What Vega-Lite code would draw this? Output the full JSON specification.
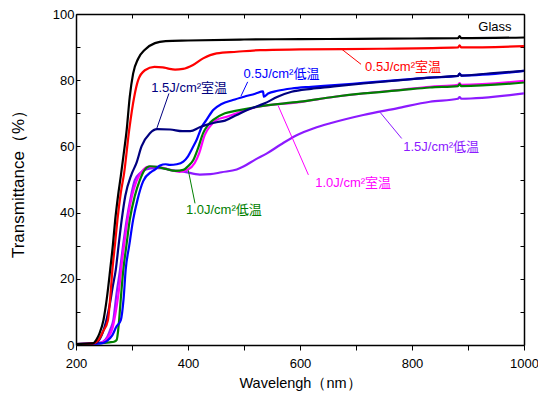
{
  "$schema": "https://vega.github.io/schema/vega-lite/v6.json",
  "width": 448,
  "height": 331,
  "autosize": {"type": "none"},
  "padding": {"left": 76, "top": 14, "right": 14, "bottom": 56},
  "background": "white",
  "config": {
    "view": {"stroke": null},
    "axis": {"grid": false, "labelFlush": false, "domainColor": "black", "domainWidth": 1.5, "tickColor": "black", "tickWidth": 1, "labelColor": "black", "titleColor": "black", "labelFont": "Liberation Sans", "titleFont": "Liberation Sans", "titleFontWeight": "normal"}
  },
  "datasets": {
    "curves": [
      {"s":"1.5J/cm²低温","w":200,"t":0.3},{"s":"1.5J/cm²低温","w":236,"t":0.5},{"s":"1.5J/cm²低温","w":248,"t":1},{"s":"1.5J/cm²低温","w":256,"t":2.5},{"s":"1.5J/cm²低温","w":262,"t":5},{"s":"1.5J/cm²低温","w":266.6,"t":7.5},{"s":"1.5J/cm²低温","w":272,"t":15},{"s":"1.5J/cm²低温","w":278.6,"t":22.7},{"s":"1.5J/cm²低温","w":284,"t":30},{"s":"1.5J/cm²低温","w":290.5,"t":37.8},{"s":"1.5J/cm²低温","w":297,"t":44},{"s":"1.5J/cm²低温","w":305,"t":49.8},{"s":"1.5J/cm²低温","w":315,"t":52},{"s":"1.5J/cm²低温","w":325,"t":53},{"s":"1.5J/cm²低温","w":341,"t":53.4},{"s":"1.5J/cm²低温","w":355,"t":53.4},{"s":"1.5J/cm²低温","w":368,"t":52.9},{"s":"1.5J/cm²低温","w":392,"t":52.4},{"s":"1.5J/cm²低温","w":421,"t":51.5},{"s":"1.5J/cm²低温","w":440,"t":51.6},{"s":"1.5J/cm²低温","w":460,"t":52.2},{"s":"1.5J/cm²低温","w":487,"t":53},{"s":"1.5J/cm²低温","w":499,"t":53.9},{"s":"1.5J/cm²低温","w":520,"t":56},{"s":"1.5J/cm²低温","w":541,"t":57.9},{"s":"1.5J/cm²低温","w":565,"t":60.5},{"s":"1.5J/cm²低温","w":594,"t":63.4},{"s":"1.5J/cm²低温","w":625,"t":65.5},{"s":"1.5J/cm²低温","w":654,"t":67},{"s":"1.5J/cm²低温","w":713,"t":69.5},{"s":"1.5J/cm²低温","w":773,"t":71.5},{"s":"1.5J/cm²低温","w":832,"t":73.5},{"s":"1.5J/cm²低温","w":882,"t":74.4},{"s":"1.5J/cm²低温","w":885,"t":74.9},{"s":"1.5J/cm²低温","w":888,"t":74.4},{"s":"1.5J/cm²低温","w":1000,"t":76},

      {"s":"1.0J/cm²室温","w":200,"t":0.3},{"s":"1.0J/cm²室温","w":238,"t":0.5},{"s":"1.0J/cm²室温","w":250,"t":1},{"s":"1.0J/cm²室温","w":258,"t":2.5},{"s":"1.0J/cm²室温","w":265,"t":5},{"s":"1.0J/cm²室温","w":272,"t":11},{"s":"1.0J/cm²室温","w":277,"t":17},{"s":"1.0J/cm²室温","w":282,"t":25},{"s":"1.0J/cm²室温","w":288,"t":33},{"s":"1.0J/cm²室温","w":293,"t":39},{"s":"1.0J/cm²室温","w":300,"t":45},{"s":"1.0J/cm²室温","w":308,"t":49.5},{"s":"1.0J/cm²室温","w":318,"t":52.5},{"s":"1.0J/cm²室温","w":328,"t":53.8},{"s":"1.0J/cm²室温","w":340,"t":53.8},{"s":"1.0J/cm²室温","w":355,"t":53.5},{"s":"1.0J/cm²室温","w":370,"t":52.8},{"s":"1.0J/cm²室温","w":385,"t":52.3},{"s":"1.0J/cm²室温","w":400,"t":53},{"s":"1.0J/cm²室温","w":412,"t":55},{"s":"1.0J/cm²室温","w":420,"t":58},{"s":"1.0J/cm²室温","w":430,"t":63.5},{"s":"1.0J/cm²室温","w":440,"t":66.2},{"s":"1.0J/cm²室温","w":451,"t":68},{"s":"1.0J/cm²室温","w":466,"t":68.8},{"s":"1.0J/cm²室温","w":487,"t":70},{"s":"1.0J/cm²室温","w":525,"t":72},{"s":"1.0J/cm²室温","w":600,"t":73.4},{"s":"1.0J/cm²室温","w":662,"t":75},{"s":"1.0J/cm²室温","w":713,"t":76},{"s":"1.0J/cm²室温","w":780,"t":77.1},{"s":"1.0J/cm²室温","w":832,"t":78},{"s":"1.0J/cm²室温","w":882,"t":78.6},{"s":"1.0J/cm²室温","w":885,"t":79.1},{"s":"1.0J/cm²室温","w":888,"t":78.6},{"s":"1.0J/cm²室温","w":1000,"t":79.8},

      {"s":"1.0J/cm²低温","w":200,"t":0.3},{"s":"1.0J/cm²低温","w":240,"t":0.5},{"s":"1.0J/cm²低温","w":260,"t":0.8},{"s":"1.0J/cm²低温","w":268,"t":1},{"s":"1.0J/cm²低温","w":272.6,"t":1.5},{"s":"1.0J/cm²低温","w":275,"t":4},{"s":"1.0J/cm²低温","w":277,"t":7.5},{"s":"1.0J/cm²低温","w":280,"t":14},{"s":"1.0J/cm²低温","w":284.5,"t":22.7},{"s":"1.0J/cm²低温","w":290,"t":30},{"s":"1.0J/cm²低温","w":296,"t":37.8},{"s":"1.0J/cm²低温","w":305,"t":45},{"s":"1.0J/cm²低温","w":314,"t":49.8},{"s":"1.0J/cm²低温","w":323,"t":53},{"s":"1.0J/cm²低温","w":332,"t":54},{"s":"1.0J/cm²低温","w":345,"t":53.8},{"s":"1.0J/cm²低温","w":360,"t":53.2},{"s":"1.0J/cm²低温","w":378,"t":52.6},{"s":"1.0J/cm²低温","w":391.6,"t":52.9},{"s":"1.0J/cm²低温","w":400,"t":54},{"s":"1.0J/cm²低温","w":409.5,"t":55.9},{"s":"1.0J/cm²低温","w":418,"t":59.5},{"s":"1.0J/cm²低温","w":427,"t":64},{"s":"1.0J/cm²低温","w":436,"t":66.5},{"s":"1.0J/cm²低温","w":445,"t":68},{"s":"1.0J/cm²低温","w":466,"t":70},{"s":"1.0J/cm²低温","w":487,"t":70.8},{"s":"1.0J/cm²低温","w":525,"t":72},{"s":"1.0J/cm²低温","w":600,"t":73.5},{"s":"1.0J/cm²低温","w":662,"t":75},{"s":"1.0J/cm²低温","w":713,"t":76},{"s":"1.0J/cm²低温","w":780,"t":77},{"s":"1.0J/cm²低温","w":832,"t":77.8},{"s":"1.0J/cm²低温","w":882,"t":78.2},{"s":"1.0J/cm²低温","w":885,"t":78.8},{"s":"1.0J/cm²低温","w":888,"t":78.2},{"s":"1.0J/cm²低温","w":1000,"t":79.3},

      {"s":"0.5J/cm²低温","w":200,"t":0.3},{"s":"0.5J/cm²低温","w":245,"t":0.5},{"s":"0.5J/cm²低温","w":255,"t":1.2},{"s":"0.5J/cm²低温","w":265,"t":3},{"s":"0.5J/cm²低温","w":272,"t":5.5},{"s":"0.5J/cm²低温","w":280,"t":7.5},{"s":"0.5J/cm²低温","w":285,"t":14},{"s":"0.5J/cm²低温","w":288.7,"t":22.7},{"s":"0.5J/cm²低温","w":295,"t":30},{"s":"0.5J/cm²低温","w":302,"t":37.8},{"s":"0.5J/cm²低温","w":310,"t":44},{"s":"0.5J/cm²低温","w":320,"t":49.5},{"s":"0.5J/cm²低温","w":335,"t":52.4},{"s":"0.5J/cm²低温","w":341,"t":53},{"s":"0.5J/cm²低温","w":350,"t":54.2},{"s":"0.5J/cm²低温","w":360,"t":54.6},{"s":"0.5J/cm²低温","w":368,"t":54.4},{"s":"0.5J/cm²低温","w":380,"t":54.6},{"s":"0.5J/cm²低温","w":391.6,"t":55.4},{"s":"0.5J/cm²低温","w":400,"t":57},{"s":"0.5J/cm²低温","w":408,"t":59.5},{"s":"0.5J/cm²低温","w":415.5,"t":62},{"s":"0.5J/cm²低温","w":425,"t":66},{"s":"0.5J/cm²低温","w":433,"t":68},{"s":"0.5J/cm²低温","w":445,"t":71},{"s":"0.5J/cm²低温","w":460,"t":72.8},{"s":"0.5J/cm²低温","w":480,"t":74},{"s":"0.5J/cm²低温","w":500,"t":75},{"s":"0.5J/cm²低温","w":520,"t":75.9},{"s":"0.5J/cm²低温","w":534,"t":76.6},{"s":"0.5J/cm²低温","w":535.5,"t":75},{"s":"0.5J/cm²低温","w":543,"t":76},{"s":"0.5J/cm²低温","w":560,"t":76.8},{"s":"0.5J/cm²低温","w":585,"t":77.5},{"s":"0.5J/cm²低温","w":620,"t":78},{"s":"0.5J/cm²低温","w":662,"t":78.5},{"s":"0.5J/cm²低温","w":713,"t":79.2},{"s":"0.5J/cm²低温","w":780,"t":80.1},{"s":"0.5J/cm²低温","w":832,"t":80.8},{"s":"0.5J/cm²低温","w":882,"t":81.3},{"s":"0.5J/cm²低温","w":885,"t":82},{"s":"0.5J/cm²低温","w":888,"t":81.4},{"s":"0.5J/cm²低温","w":1000,"t":82.8},

      {"s":"1.5J/cm²室温","w":200,"t":0.3},{"s":"1.5J/cm²室温","w":235,"t":0.6},{"s":"1.5J/cm²室温","w":243,"t":2},{"s":"1.5J/cm²室温","w":252,"t":6},{"s":"1.5J/cm²室温","w":260,"t":12},{"s":"1.5J/cm²室温","w":266,"t":18},{"s":"1.5J/cm²室温","w":271,"t":22.7},{"s":"1.5J/cm²室温","w":276,"t":30},{"s":"1.5J/cm²室温","w":281.6,"t":37.8},{"s":"1.5J/cm²室温","w":288,"t":45},{"s":"1.5J/cm²室温","w":299,"t":51.5},{"s":"1.5J/cm²室温","w":308,"t":55},{"s":"1.5J/cm²室温","w":317,"t":60},{"s":"1.5J/cm²室温","w":332,"t":64},{"s":"1.5J/cm²室温","w":345,"t":65.2},{"s":"1.5J/cm²室温","w":368,"t":65.1},{"s":"1.5J/cm²室温","w":390,"t":64.6},{"s":"1.5J/cm²室温","w":404,"t":64.6},{"s":"1.5J/cm²室温","w":421,"t":65.8},{"s":"1.5J/cm²室温","w":433,"t":66.5},{"s":"1.5J/cm²室温","w":451,"t":67.3},{"s":"1.5J/cm²室温","w":466,"t":67.8},{"s":"1.5J/cm²室温","w":487,"t":69.5},{"s":"1.5J/cm²室温","w":510,"t":71.3},{"s":"1.5J/cm²室温","w":537,"t":73},{"s":"1.5J/cm²室温","w":560,"t":75},{"s":"1.5J/cm²室温","w":585,"t":76.5},{"s":"1.5J/cm²室温","w":620,"t":77.4},{"s":"1.5J/cm²室温","w":654,"t":78},{"s":"1.5J/cm²室温","w":713,"t":79},{"s":"1.5J/cm²室温","w":780,"t":80},{"s":"1.5J/cm²室温","w":832,"t":80.8},{"s":"1.5J/cm²室温","w":882,"t":81.3},{"s":"1.5J/cm²室温","w":885,"t":82},{"s":"1.5J/cm²室温","w":888,"t":81.4},{"s":"1.5J/cm²室温","w":940,"t":82.1},{"s":"1.5J/cm²室温","w":1000,"t":82.8},

      {"s":"0.5J/cm²室温","w":200,"t":0.3},{"s":"0.5J/cm²室温","w":232,"t":0.5},{"s":"0.5J/cm²室温","w":240,"t":1.5},{"s":"0.5J/cm²室温","w":248,"t":4},{"s":"0.5J/cm²室温","w":257,"t":7.5},{"s":"0.5J/cm²室温","w":261,"t":14},{"s":"0.5J/cm²室温","w":265,"t":22.7},{"s":"0.5J/cm²室温","w":270,"t":31},{"s":"0.5J/cm²室温","w":274,"t":37.8},{"s":"0.5J/cm²室温","w":280,"t":46},{"s":"0.5J/cm²室温","w":286,"t":52},{"s":"0.5J/cm²室温","w":295,"t":65},{"s":"0.5J/cm²室温","w":304,"t":75},{"s":"0.5J/cm²室温","w":311,"t":80},{"s":"0.5J/cm²室温","w":323,"t":83},{"s":"0.5J/cm²室温","w":340,"t":84},{"s":"0.5J/cm²室温","w":355,"t":83.9},{"s":"0.5J/cm²室温","w":365,"t":83.5},{"s":"0.5J/cm²室温","w":377,"t":83.2},{"s":"0.5J/cm²室温","w":391,"t":83.4},{"s":"0.5J/cm²室温","w":409,"t":84.6},{"s":"0.5J/cm²室温","w":427,"t":86.6},{"s":"0.5J/cm²室温","w":451,"t":88.1},{"s":"0.5J/cm²室温","w":487,"t":88.6},{"s":"0.5J/cm²室温","w":529,"t":89.1},{"s":"0.5J/cm²室温","w":600,"t":89.3},{"s":"0.5J/cm²室温","w":743,"t":89.5},{"s":"0.5J/cm²室温","w":882,"t":89.9},{"s":"0.5J/cm²室温","w":885,"t":90.5},{"s":"0.5J/cm²室温","w":888,"t":89.9},{"s":"0.5J/cm²室温","w":1000,"t":90.3},

      {"s":"Glass","w":200,"t":0.3},{"s":"Glass","w":230,"t":0.5},{"s":"Glass","w":236,"t":1.5},{"s":"Glass","w":242,"t":3.5},{"s":"Glass","w":249,"t":7.5},{"s":"Glass","w":255,"t":14},{"s":"Glass","w":261,"t":22.7},{"s":"Glass","w":266,"t":30.5},{"s":"Glass","w":270,"t":37.8},{"s":"Glass","w":275,"t":45},{"s":"Glass","w":280,"t":51},{"s":"Glass","w":285,"t":57.5},{"s":"Glass","w":290.5,"t":65},{"s":"Glass","w":296,"t":75},{"s":"Glass","w":302,"t":82},{"s":"Glass","w":311,"t":86.5},{"s":"Glass","w":323,"t":89.2},{"s":"Glass","w":341,"t":91.2},{"s":"Glass","w":360,"t":91.8},{"s":"Glass","w":400,"t":92},{"s":"Glass","w":500,"t":92.3},{"s":"Glass","w":600,"t":92.4},{"s":"Glass","w":700,"t":92.5},{"s":"Glass","w":800,"t":92.6},{"s":"Glass","w":882,"t":92.7},{"s":"Glass","w":885,"t":93.3},{"s":"Glass","w":888,"t":92.7},{"s":"Glass","w":1000,"t":92.9}
    ],
    "labels": [
      {"s":"Glass","w":948,"t":96.2},
      {"s":"0.5J/cm²室温","w":784,"t":84},
      {"s":"0.5J/cm²低温","w":567,"t":81.9},
      {"s":"1.5J/cm²室温","w":402,"t":77.5},
      {"s":"1.0J/cm²低温","w":464,"t":40.8},
      {"s":"1.0J/cm²室温","w":695,"t":48.8},
      {"s":"1.5J/cm²低温","w":852,"t":59.9}
    ],
    "leaders": [
      {"s":"0.5J/cm²室温","w":675,"t":89.3,"w2":709,"t2":84.8},
      {"s":"0.5J/cm²低温","w":494.6,"t":75.2,"w2":506.6,"t2":79.5},
      {"s":"1.5J/cm²室温","w":366,"t":76,"w2":344,"t2":65.3},
      {"s":"1.0J/cm²低温","w":400.5,"t":52.8,"w2":412.5,"t2":42.8},
      {"s":"1.0J/cm²室温","w":561,"t":72.3,"w2":615,"t2":51.4},
      {"s":"1.5J/cm²低温","w":743,"t":70.3,"w2":781.6,"t2":62.4}
    ]
  },
  "resolve": {"axis": {"x": "independent", "y": "independent"}},
  "layer": [
    {
      "data": {"name": "curves"},
      "mark": {"type": "line", "strokeWidth": 2.2, "interpolate": "monotone", "clip": true},
      "encoding": {
        "x": {"field": "w", "type": "quantitative", "scale": {"domain": [200, 1000], "nice": false, "zero": false},
          "axis": {"orient": "bottom", "values": [200,300,400,500,600,700,800,900,1000], "format": "d", "labelExpr": "datum.value % 200 === 0 ? datum.label : ''", "tickSize": 5, "labelFontSize": 13, "labelPadding": 7, "title": "Wavelengh（nm）", "titleFontSize": 14.5, "titlePadding": 6}},
        "y": {"field": "t", "type": "quantitative", "scale": {"domain": [0, 100], "nice": false, "zero": false},
          "axis": {"orient": "left", "values": [0,10,20,30,40,50,60,70,80,90,100], "labelExpr": "datum.value % 20 === 0 ? datum.label : ''", "tickSize": -4, "labelFontSize": 13, "labelPadding": 6, "title": "Transmittance（%）", "titleFontSize": 17, "titlePadding": 25}},
        "color": {"field": "s", "type": "nominal", "legend": null,
          "scale": {"domain": ["Glass","0.5J/cm²室温","0.5J/cm²低温","1.0J/cm²室温","1.0J/cm²低温","1.5J/cm²室温","1.5J/cm²低温"],
                    "range": ["#000000","#ff0000","#0000ff","#ff00ff","#008000","#000080","#8c1aff"]}}
      }
    },
    {
      "data": {"name": "leaders"},
      "mark": {"type": "rule", "strokeWidth": 1},
      "encoding": {
        "x": {"field": "w", "type": "quantitative", "scale": {"domain": [200, 1000], "nice": false, "zero": false}, "axis": {"orient": "top", "values": [200,300,400,500,600,700,800,900,1000], "labels": false, "tickSize": -4, "title": null}},
        "y": {"field": "t", "type": "quantitative", "scale": {"domain": [0, 100], "nice": false, "zero": false}, "axis": {"orient": "right", "values": [0,10,20,30,40,50,60,70,80,90,100], "labels": false, "tickSize": -4, "title": null}},
        "x2": {"field": "w2"},
        "y2": {"field": "t2"},
        "color": {"field": "s", "type": "nominal", "legend": null}
      }
    },
    {
      "data": {"name": "labels"},
      "mark": {"type": "text", "font": "Liberation Sans, Noto Sans CJK JP", "fontSize": 13, "align": "center", "baseline": "middle"},
      "encoding": {
        "x": {"field": "w", "type": "quantitative", "scale": {"domain": [200, 1000], "nice": false, "zero": false}, "axis": null},
        "y": {"field": "t", "type": "quantitative", "scale": {"domain": [0, 100], "nice": false, "zero": false}, "axis": null},
        "text": {"field": "s"},
        "color": {"field": "s", "type": "nominal", "legend": null}
      }
    }
  ]
}
